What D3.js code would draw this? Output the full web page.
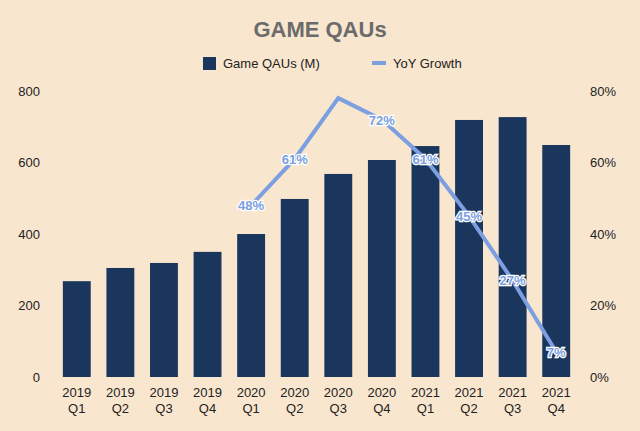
<!DOCTYPE html><html><head><meta charset="utf-8">
<script src="https://cdn.jsdelivr.net/npm/d3@7"></script>
<style>body{margin:0;background:#f9e6cf}svg{display:block}</style></head><body>
<svg id="c" width="640" height="431"></svg>
<script>
const years=["2019","2019","2019","2019","2020","2020","2020","2020","2021","2021","2021","2021"];
const quarters=["Q1","Q2","Q3","Q4","Q1","Q2","Q3","Q4","Q1","Q2","Q3","Q4"];
const qaus=[268,305,319,350,400,498,568,607,646,719,727,649];
const growth=[null,null,null,null,48,61,78,72,61,45,27,7];
const growthLabels=[null,null,null,null,"48%","61%",null,"72%","61%","45%","27%","7%"];
const leftTicks=[0,200,400,600,800];
const rightTicks=[0,20,40,60,80];

const svg=d3.select("#c");
svg.append("rect").attr("width",640).attr("height",431).attr("fill","#f9e6cf");
const W=640,pTop=91,pBottom=377,pLeft=55,pRight=578;
const idx=d3.range(qaus.length);
const x=d3.scaleBand().domain(idx).range([pLeft,pRight]).paddingInner(0.36).paddingOuter(0.18);
const y=d3.scaleLinear().domain([0,800]).range([pBottom,pTop]);
const y2=d3.scaleLinear().domain([0,80]).range([pBottom,pTop]);
const font="Helvetica, Liberation Sans, Arial, sans-serif";

svg.append("text").attr("x",W/2).attr("y",37).attr("text-anchor","middle").attr("font-family",font)
 .attr("font-weight","bold").attr("font-size",22).attr("fill","#6b6b6b").text("GAME QAUs");
const lg=svg.append("g").attr("font-family",font).attr("font-size",13).attr("fill","#222");
lg.append("rect").attr("x",203).attr("y",57).attr("width",13).attr("height",13).attr("fill","#1b365d");
lg.append("text").attr("x",223).attr("y",68).text("Game QAUs (M)");
lg.append("line").attr("x1",372).attr("x2",386).attr("y1",63).attr("y2",63).attr("stroke","#7b9fe0").attr("stroke-width",4);
lg.append("text").attr("x",393).attr("y",68).text("YoY Growth");

svg.append("g").selectAll("rect").data(idx).join("rect")
 .attr("x",i=>x(i)).attr("width",x.bandwidth()).attr("y",i=>y(qaus[i])).attr("height",i=>pBottom-y(qaus[i])).attr("fill","#1b365d");

const ax=d3.axisLeft(y).tickValues(leftTicks).tickSize(0).tickPadding(0);
const gl=svg.append("g").attr("transform","translate(40,0)").call(ax);
gl.select(".domain").remove();
gl.selectAll("text").attr("font-family",font).attr("font-size",13).attr("fill","#222");
const ar=d3.axisRight(y2).tickValues(rightTicks).tickFormat(d=>d+"%").tickSize(0).tickPadding(0);
const gr=svg.append("g").attr("transform","translate(590,0)").call(ar);
gr.select(".domain").remove();
gr.selectAll("text").attr("font-family",font).attr("font-size",13).attr("fill","#222");

const line=d3.line().defined(i=>growth[i]!=null).x(i=>x(i)+x.bandwidth()/2).y(i=>y2(growth[i]));
svg.append("path").datum(idx).attr("d",line).attr("fill","none").attr("stroke","#7b9fe0").attr("stroke-width",4);

svg.append("g").selectAll("text").data(idx.filter(i=>growthLabels[i])).join("text")
 .attr("x",i=>x(i)+x.bandwidth()/2).attr("y",i=>y2(growth[i])+5).attr("text-anchor","middle")
 .attr("font-family",font).attr("font-size",13).attr("font-weight","bold")
 .attr("fill","#7b9fe0").attr("stroke","#ffffff").attr("stroke-width",2.5).attr("paint-order","stroke")
 .text(i=>growthLabels[i]);

const xl=svg.append("g").attr("font-family",font).attr("font-size",13).attr("fill","#222");
xl.selectAll(".yr").data(idx).join("text").attr("x",i=>x(i)+x.bandwidth()/2).attr("y",397).attr("text-anchor","middle").text(i=>years[i]);
xl.selectAll(".q").data(idx).join("text").attr("x",i=>x(i)+x.bandwidth()/2).attr("y",413).attr("text-anchor","middle").text(i=>quarters[i]);
</script></body></html>
